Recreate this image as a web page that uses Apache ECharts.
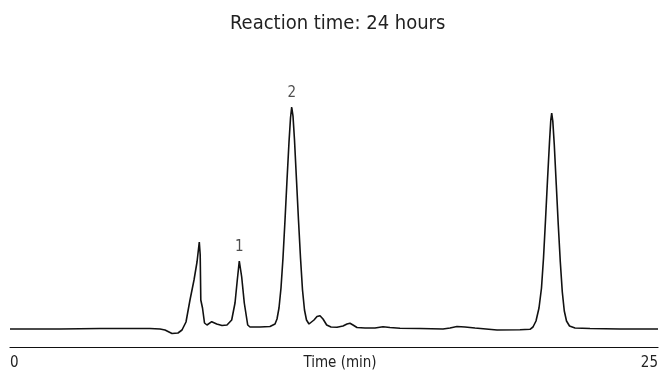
<!DOCTYPE html>
<html>
<head>
<meta charset="utf-8">
<script src="https://cdn.jsdelivr.net/npm/echarts@6/dist/echarts.min.js"></script>
<style>
html,body{margin:0;padding:0;background:#fff;}
#c{width:661px;height:373px;}
</style>
</head>
<body>
<div id="c"></div>
<script>
var titleText = 'Reaction time: 24 hours';
var xAxisName = 'Time (min)';
var xTickLabels = ['0', '25'];
var timeMin = [0, 1.929, 3.472, 5.401, 5.787, 5.980, 6.250, 6.481, 6.636, 6.790, 6.944, 7.099, 7.215, 7.303, 7.338, 7.361, 7.427, 7.504, 7.600, 7.782, 7.975, 8.179, 8.372, 8.553, 8.681, 8.769, 8.846, 8.939, 9.039, 9.171, 9.259, 9.645, 10.031,
  10.108, 10.224, 10.301, 10.378, 10.455, 10.532, 10.610, 10.687, 10.764, 10.822, 10.868, 10.918, 10.976, 11.053, 11.130, 11.208, 11.285, 11.362, 11.439, 11.535,
  11.728, 11.844, 11.960, 12.076, 12.218, 12.384, 12.616, 12.847, 13.001, 13.117, 13.233, 13.387, 13.696, 14.082, 14.390, 14.660, 15.046, 15.818, 16.705, 16.975, 17.245, 17.554, 17.940, 18.789, 19.676, 20.062,
  20.177, 20.293, 20.409, 20.505, 20.583, 20.660, 20.737, 20.814, 20.864, 20.899, 20.941, 20.999, 21.076, 21.153, 21.231, 21.308, 21.385, 21.470, 21.586, 21.798,
  22.377, 23.534, 25];
var signal = [0, 0, 0.5, 0.5, 0, -1, -4.5, -4, -1, 7, 29, 49, 67, 87, 74, 29, 21, 6, 4, 7.3, 5, 3.5, 4, 9, 26, 49, 68, 52, 26, 4, 2, 2, 2.5,
  3, 5, 10, 21, 41, 71, 109, 149, 187, 211, 222, 213, 189, 149, 109, 71, 39, 19, 9, 5,
  9, 12.5, 13.3, 10, 4, 2, 1.7, 3, 5, 5.7, 4, 1.5, 1, 1, 2.3, 1.5, 0.7, 0.5, 0, 1, 2.5, 2, 1, -1, -0.8, -0.3,
  2, 8, 21, 41, 71, 109, 149, 187, 209, 216, 208, 184, 144, 104, 67, 37, 18, 8, 3, 1,
  0.5, 0, 0];
var peakLabels = ['1', '2'];
var peakTimes = [8.846, 10.868];
var peakHeights = [68, 222];

var FONT = "'Liberation Sans Narrow', 'DejaVu Sans Condensed', sans-serif";

var chart = echarts.init(document.getElementById('c'), null, { renderer: 'canvas' });
chart.setOption({
  backgroundColor: '#ffffff',
  animation: false,
  title: {
    text: titleText,
    left: 225,
    top: 9,
    textStyle: { fontFamily: FONT, fontSize: 20, fontWeight: 'normal', color: '#222' }
  },
  grid: { left: 10, right: 3, top: 79, bottom: 26, containLabel: false, outerBoundsMode: 'none' },
  xAxis: {
    type: 'value',
    min: 0,
    max: 25,
    interval: 25,
    name: xAxisName,
    nameLocation: 'middle',
    nameGap: 9,
    nameMoveOverlap: false,
    nameTextStyle: { fontFamily: FONT, fontSize: 15, color: '#222', verticalAlign: 'top', padding: [0, 0, 0, 12] },
    axisLine: { show: true, onZero: false, lineStyle: { color: '#111', width: 1.2 } },
    axisTick: { show: false },
    splitLine: { show: false },
    axisLabel: {
      show: true, margin: 9, fontFamily: FONT, fontSize: 15, color: '#222',
      alignMinLabel: 'left', alignMaxLabel: 'right',
      formatter: function (v) { return v === 0 ? xTickLabels[0] : (v === 25 ? xTickLabels[1] : ''); }
    }
  },
  yAxis: {
    type: 'value',
    min: -18,
    max: 250,
    show: false,
    splitLine: { show: false }
  },
  series: [{
    type: 'line',
    data: timeMin.map(function (t, i) { return [t, signal[i]]; }),
    showSymbol: false,
    symbol: 'none',
    smooth: false,
    lineStyle: { color: '#111', width: 1.6 },
    z: 3
  }, {
    type: 'scatter',
    data: peakTimes.map(function (t, i) { return { value: [t, peakHeights[i]], name: peakLabels[i] }; }),
    symbolSize: 1,
    itemStyle: { color: 'rgba(0,0,0,0)' },
    label: {
      show: true, position: 'top', distance: 6,
      formatter: function (p) { return p.name; },
      fontFamily: FONT, fontSize: 15, color: '#222'
    },
    silent: true,
    z: 4
  }]
});
</script>
</body>
</html>
